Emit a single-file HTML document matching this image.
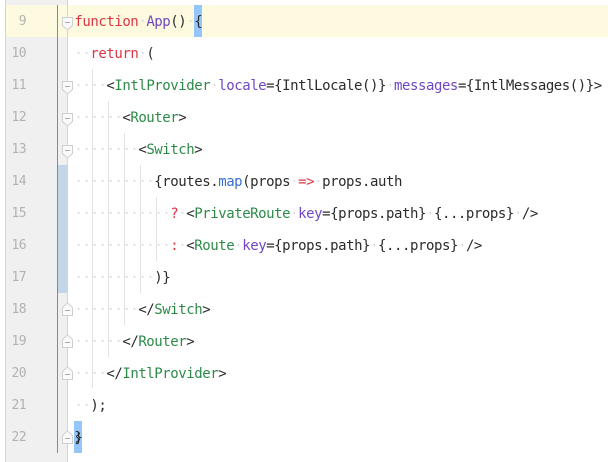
<!DOCTYPE html>
<html><head><meta charset="utf-8">
<style>
html,body{margin:0;padding:0;background:#fff}
#c{position:relative;width:608px;height:462px;overflow:hidden;background:#fff}
.a{position:absolute}
pre{position:absolute;left:74.4px;margin:1px 0 0;height:32px;font:14px/32px "DejaVu Sans Mono","Liberation Mono",monospace;letter-spacing:-.44px;color:#2b2b2b;white-space:pre}
.n{position:absolute;left:6px;width:20px;margin-top:1px;text-align:right;height:32px;font:13px/32px "DejaVu Sans Mono",monospace;letter-spacing:-.6px;color:#b2b2b2}
i{font-style:normal;color:#dcdcdc}
.k{color:#dc3545}.t{color:#2c8a48}.p{color:#6f47c4}.m{color:#3a6fd0}
.g{position:absolute;width:1px;background:#e2e2e2}
</style></head><body><div id="c">
<div class="a" style="left:5px;top:0;width:1px;height:462px;background:#d4d4d4"></div>
<div class="a" style="left:6px;top:0;width:61px;height:462px;background:#f0f0f0"></div>
<div class="a" style="left:6px;top:5px;width:602px;height:32px;background:#fefadf"></div>
<div class="a" style="left:58px;top:165px;width:9px;height:128px;background:#c3d6e8"></div>
<div class="a" style="left:57px;top:5px;width:1px;height:448px;background:#6b8fb5"></div>
<div class="a" style="left:67px;top:0;width:1px;height:462px;background:#d4d4d4"></div>
<div class="a" style="left:194px;top:5px;width:8px;height:32px;background:#94c6fb"></div>
<div class="a" style="left:74px;top:421px;width:8px;height:32px;background:#94c6fb"></div>
<div class="g" style="left:92px;top:69px;height:319px"></div>
<div class="g" style="left:108px;top:101px;height:256px"></div>
<div class="g" style="left:124px;top:133px;height:192px"></div>
<div class="g" style="left:140px;top:165px;height:128px"></div>
<div class="g" style="left:156px;top:197px;height:64px"></div>
<svg class="a" style="left:0;top:0" width="608" height="462" fill="#fafafa" stroke="#cfcfcf" stroke-width="1">
<path d="M62.500 17.500h10v8l-5 4.500l-5-4.500z"/><path d="M65 22.500h5" fill="none" stroke="#aaa"/>
<path d="M62.500 81.500h10v8l-5 4.500l-5-4.500z"/><path d="M65 86.500h5" fill="none" stroke="#aaa"/>
<path d="M62.500 113.500h10v8l-5 4.500l-5-4.500z"/><path d="M65 118.500h5" fill="none" stroke="#aaa"/>
<path d="M62.500 145.500h10v8l-5 4.500l-5-4.500z"/><path d="M65 150.500h5" fill="none" stroke="#aaa"/>
<path d="M62.500 315.500h10v-8l-5-4.500l-5 4.500z"/><path d="M65 310.500h5" fill="none" stroke="#aaa"/>
<path d="M62.500 347.500h10v-8l-5-4.500l-5 4.500z"/><path d="M65 342.500h5" fill="none" stroke="#aaa"/>
<path d="M62.500 379.500h10v-8l-5-4.500l-5 4.500z"/><path d="M65 374.500h5" fill="none" stroke="#aaa"/>
<path d="M62.500 443.500h10v-8l-5-4.500l-5 4.500z"/><path d="M65 438.500h5" fill="none" stroke="#aaa"/>
</svg>
<div class="n" style="top:5px">9</div>
<div class="n" style="top:37px">10</div>
<div class="n" style="top:69px">11</div>
<div class="n" style="top:101px">12</div>
<div class="n" style="top:133px">13</div>
<div class="n" style="top:165px">14</div>
<div class="n" style="top:197px">15</div>
<div class="n" style="top:229px">16</div>
<div class="n" style="top:261px">17</div>
<div class="n" style="top:293px">18</div>
<div class="n" style="top:325px">19</div>
<div class="n" style="top:357px">20</div>
<div class="n" style="top:389px">21</div>
<div class="n" style="top:421px">22</div>
<pre style="top:5px"><span class="k">function</span><i>·</i><span class="p">App</span>()<i>·</i>{</pre>
<pre style="top:37px"><i>··</i><span class="k">return</span><i>·</i>(</pre>
<pre style="top:69px"><i>····</i>&lt;<span class="t">IntlProvider</span><i>·</i><span class="p">locale</span>={IntlLocale()}<i>·</i><span class="p">messages</span>={IntlMessages()}&gt;</pre>
<pre style="top:101px"><i>······</i>&lt;<span class="t">Router</span>&gt;</pre>
<pre style="top:133px"><i>········</i>&lt;<span class="t">Switch</span>&gt;</pre>
<pre style="top:165px"><i>··········</i>{routes.<span class="m">map</span>(props<i>·</i><span class="k">=&gt;</span><i>·</i>props.auth</pre>
<pre style="top:197px"><i>············</i><span class="k">?</span><i>·</i>&lt;<span class="t">PrivateRoute</span><i>·</i><span class="p">key</span>={props.path}<i>·</i>{...props}<i>·</i>/&gt;</pre>
<pre style="top:229px"><i>············</i><span class="k">:</span><i>·</i>&lt;<span class="t">Route</span><i>·</i><span class="p">key</span>={props.path}<i>·</i>{...props}<i>·</i>/&gt;</pre>
<pre style="top:261px"><i>··········</i>)}</pre>
<pre style="top:293px"><i>········</i>&lt;/<span class="t">Switch</span>&gt;</pre>
<pre style="top:325px"><i>······</i>&lt;/<span class="t">Router</span>&gt;</pre>
<pre style="top:357px"><i>····</i>&lt;/<span class="t">IntlProvider</span>&gt;</pre>
<pre style="top:389px"><i>··</i>);</pre>
<pre style="top:421px">}</pre>
<svg class="a" style="left:0;top:0" width="608" height="462" fill="none" stroke="#2b2b2b" stroke-width="1"><path d="M78 432q3 1.500 0 3t0 3t0 3t0 3"/></svg>
</div></body></html>
